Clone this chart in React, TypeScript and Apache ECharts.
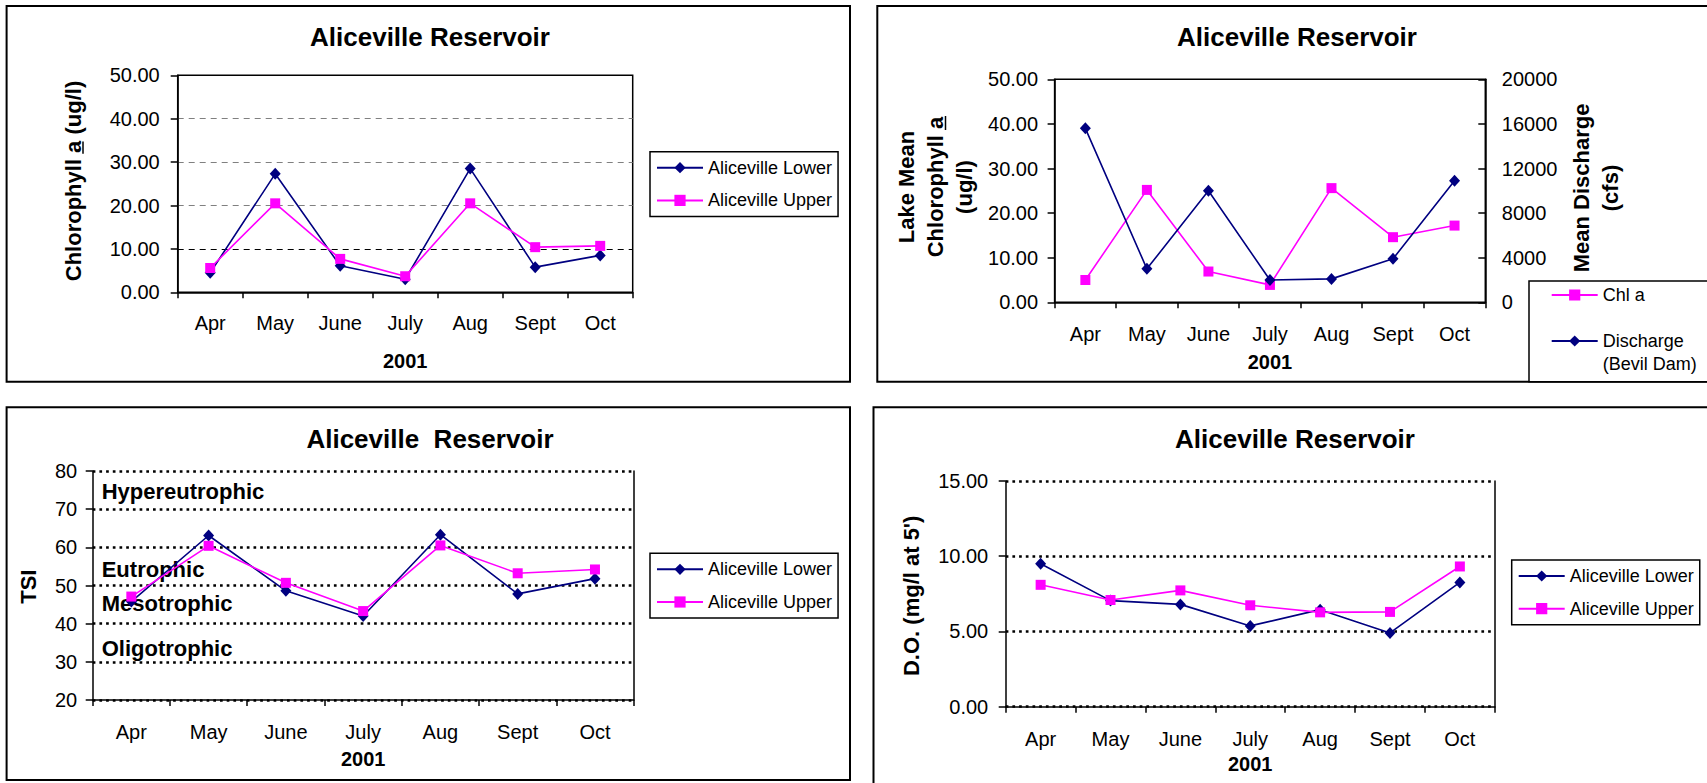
import React, { useEffect, useRef } from 'react';
import * as echarts from 'echarts';

// ---------- data ----------
const months = ['Apr', 'May', 'June', 'July', 'Aug', 'Sept', 'Oct'];

// Panel 1: Chlorophyll a (ug/l)
const chlLower = [4.5, 27.3, 6.1, 3.0, 28.5, 5.8, 8.5];
const chlUpper = [5.6, 20.5, 7.7, 3.7, 20.5, 10.4, 10.7];

// Panel 2: lake mean chlorophyll a and discharge
const lakeChl = [5.0, 25.2, 6.9, 3.9, 25.6, 14.6, 17.2];
const discharge = [15600, 3000, 10000, 2000, 2100, 3900, 10900];

// Panel 3: TSI
const tsiLower = [45.8, 63.1, 48.6, 42.0, 63.3, 47.8, 51.8];
const tsiUpper = [47.1, 60.4, 50.7, 43.3, 60.5, 53.2, 54.2];
const tsiZones = [
  { name: 'Hypereutrophic', from: 70, to: 80, shift: 1 },
  { name: 'Eutrophic', from: 50, to: 60, shift: 3 },
  { name: 'Mesotrophic', from: 40, to: 50, shift: -1 },
  { name: 'Oligotrophic', from: 30, to: 40, shift: 6 },
];

// Panel 4: D.O. (mg/l at 5')
const doLower = [9.5, 7.05, 6.8, 5.37, 6.45, 4.9, 8.26];
const doUpper = [8.1, 7.09, 7.73, 6.74, 6.27, 6.3, 9.32];

const seriesNames = ['Aliceville Lower', 'Aliceville Upper'];

// ---------- styling ----------
const FONT = "'Liberation Sans', Arial, Helvetica, sans-serif";
const NAVY = '#000080';
const PINK = '#FF00FF';
const AXIS_LINE = { color: '#000', width: 1.5 };

function xAx(gridIndex: number, labelMargin: number, nameGap: number) {
  return {
    type: 'category',
    gridIndex,
    data: months,
    boundaryGap: true,
    axisLine: { show: true, lineStyle: AXIS_LINE },
    axisTick: { show: true, length: 6, lineStyle: AXIS_LINE },
    axisLabel: { color: '#000', fontSize: 20, fontFamily: FONT, margin: labelMargin, interval: 0, lineHeight: 20 },
    splitLine: { show: false },
    name: '2001',
    nameLocation: 'middle',
    nameGap,
    nameTextStyle: { color: '#000', fontSize: 20, fontWeight: 'bold', fontFamily: FONT, lineHeight: 20 },
  };
}

function yAx(gridIndex: number, min: number, max: number, interval: number, extra: any = {}) {
  return {
    type: 'value',
    gridIndex,
    min,
    max,
    interval,
    axisLine: { show: true, lineStyle: AXIS_LINE },
    axisTick: { show: true, length: 7, lineStyle: AXIS_LINE },
    axisLabel: { color: '#000', fontSize: 20, fontFamily: FONT, margin: 17 },
    splitLine: { show: false },
    ...extra,
  };
}

function frameAx(gridIndex: number, min: number, max: number) {
  return {
    type: 'value',
    gridIndex,
    position: 'right',
    min,
    max,
    axisLine: { show: true, lineStyle: AXIS_LINE },
    axisTick: { show: false },
    axisLabel: { show: false },
    splitLine: { show: false },
  };
}

function lineSeries(name: string, data: number[], xi: number, yi: number, navy: boolean, extra: any = {}) {
  const color = navy ? NAVY : PINK;
  return {
    type: 'line',
    name,
    xAxisIndex: xi,
    yAxisIndex: yi,
    data,
    symbol: navy ? 'diamond' : 'rect',
    symbolSize: navy ? [11, 12] : 10,
    itemStyle: { color },
    lineStyle: { color, width: 1.6 },
    z: navy ? 3 : 4,
    ...extra,
  };
}

function legendBox(left: number, top: number) {
  return {
    orient: 'vertical',
    left,
    top,
    data: seriesNames,
    itemWidth: 46,
    itemHeight: 14,
    itemGap: 12.7,
    padding: [6, 6, 6, 6],
    borderColor: '#000',
    borderWidth: 1.5,
    backgroundColor: '#fff',
    selectedMode: false,
    textStyle: { fontSize: 18, fontFamily: FONT, color: '#000', lineHeight: 20 },
  };
}

function titleAt(text: string, cx: number, top: number) {
  return {
    text,
    left: cx,
    top,
    textAlign: 'center',
    padding: 0,
    textStyle: { fontSize: 26, fontWeight: 'bold', fontFamily: FONT, color: '#000', lineHeight: 26 },
  };
}

function vText(text: string, x: number, y: number, lineHeight = 29) {
  return {
    type: 'text',
    x,
    y,
    rotation: Math.PI / 2,
    silent: true,
    style: {
      text,
      fontSize: 22,
      fontWeight: 'bold',
      fontFamily: FONT,
      fill: '#000',
      align: 'center',
      verticalAlign: 'middle',
      lineHeight,
    },
  };
}

function buildOption() {
  const fix2 = (v: number) => v.toFixed(2);
  const plain = (v: number) => String(v);
  const dotted = { show: true, lineStyle: { type: [2.7, 4], color: '#000', width: 2.5 } };

  return {
    animation: false,
    backgroundColor: '#fff',
    title: [
      titleAt('Aliceville Reservoir', 430, 24),
      titleAt('Aliceville Reservoir', 1297, 24),
      titleAt('Aliceville  Reservoir', 430, 426),
      titleAt('Aliceville Reservoir', 1295, 426),
    ],
    legend: [
      legendBox(650, 151.7),
      {
        orient: 'vertical',
        left: 1550.7,
        top: 285,
        data: ['Chl a', 'Discharge'],
        itemWidth: 46,
        itemHeight: 14,
        itemGap: 26,
        padding: 0,
        selectedMode: false,
        textStyle: { fontSize: 18, fontFamily: FONT, color: '#000', lineHeight: 20 },
      },
      legendBox(650, 553.3),
      legendBox(1511.7, 560),
    ],
    grid: [
      { left: 177.7, top: 75.3, width: 455, height: 217, show: true, borderColor: '#000', borderWidth: 1.5, backgroundColor: 'transparent' },
      { left: 1054.6, top: 79.3, width: 430.7, height: 223, show: true, borderColor: '#000', borderWidth: 1.5, backgroundColor: 'transparent' },
      { left: 92.7, top: 471, width: 540.9, height: 229 },
      { left: 1005.7, top: 481, width: 489.1, height: 225.7 },
    ],
    xAxis: [
      xAx(0, 21, 59),
      xAx(1, 22, 49.5),
      xAx(2, 21.5, 49),
      xAx(3, 22, 47.5),
    ],
    yAxis: [
      yAx(0, 0, 50, 10, {
        axisLabel: { color: '#000', fontSize: 20, fontFamily: FONT, margin: 18, formatter: fix2 },
        splitLine: {
          show: true,
          lineStyle: { type: [6, 5], width: 1, color: ['#000', '#000', '#808080', '#808080', '#808080', '#000'] },
        },
      }),
      yAx(1, 0, 50, 10, {
        axisLabel: { color: '#000', fontSize: 20, fontFamily: FONT, margin: 16.5, formatter: fix2 },
      }),
      yAx(1, 0, 20000, 4000, {
        position: 'right',
        axisTick: { show: true, inside: true, length: 7, lineStyle: AXIS_LINE },
        axisLabel: { color: '#000', fontSize: 20, fontFamily: FONT, margin: 16.5, formatter: plain },
      }),
      yAx(2, 20, 80, 10, {
        axisLabel: { color: '#000', fontSize: 20, fontFamily: FONT, margin: 15.5, formatter: plain },
        splitLine: dotted,
      }),
      frameAx(2, 20, 80),
      yAx(3, 0, 15, 5, {
        axisLabel: { color: '#000', fontSize: 20, fontFamily: FONT, margin: 17.5, formatter: fix2 },
        splitLine: dotted,
      }),
      frameAx(3, 0, 15),
    ],
    series: [
      lineSeries(seriesNames[0], chlLower, 0, 0, true),
      lineSeries(seriesNames[1], chlUpper, 0, 0, false),
      lineSeries('Chl a', lakeChl, 1, 1, false, { z: 3 }),
      lineSeries('Discharge', discharge, 1, 2, true, { z: 4 }),
      lineSeries(seriesNames[0], tsiLower, 2, 3, true, {
        markArea: {
          silent: true,
          itemStyle: { color: 'rgba(0,0,0,0)' },
          label: {
            show: true,
            position: 'insideLeft',
            distance: 9,
            fontSize: 22,
            fontWeight: 'bold',
            fontFamily: FONT,
            color: '#000',
          },
          data: tsiZones.map((z) => [
            { name: z.name, yAxis: z.from, label: { offset: [0, z.shift] } },
            { yAxis: z.to },
          ]),
        },
      }),
      lineSeries(seriesNames[1], tsiUpper, 2, 3, false),
      lineSeries(seriesNames[0], doLower, 3, 5, true),
      lineSeries(seriesNames[1], doUpper, 3, 5, false),
    ],
    graphic: {
      elements: [
        // panel frames
        { type: 'rect', z: -10, silent: true, shape: { x: 6.6, y: 6, width: 843.4, height: 375.7 }, style: { fill: 'none', stroke: '#000', lineWidth: 2 } },
        { type: 'rect', z: -10, silent: true, shape: { x: 877.3, y: 6, width: 900, height: 375.7 }, style: { fill: 'none', stroke: '#000', lineWidth: 2 } },
        { type: 'rect', z: -10, silent: true, shape: { x: 6.6, y: 407.3, width: 843.4, height: 372.7 }, style: { fill: 'none', stroke: '#000', lineWidth: 2 } },
        { type: 'rect', z: -10, silent: true, shape: { x: 873.5, y: 407.3, width: 900, height: 400 }, style: { fill: 'none', stroke: '#000', lineWidth: 2 } },
        // panel 2 legend frame
        { type: 'rect', z: -5, silent: true, shape: { x: 1529, y: 281, width: 200, height: 100.7 }, style: { fill: '#fff', stroke: '#000', lineWidth: 1.5 } },
        {
          type: 'text', x: 1602.7, y: 364, silent: true,
          style: { text: '(Bevil Dam)', fontSize: 18, fontFamily: FONT, fill: '#000', align: 'left', verticalAlign: 'middle' },
        },
        // axis titles
        vText('Chlorophyll a (ug/l)', 73, 181),
        { type: 'line', silent: true, shape: { x1: 83, y1: 141.5, x2: 83, y2: 153.7 }, style: { stroke: '#000', lineWidth: 1.5 } },
        vText('Lake Mean\nChlorophyll a\n(ug/l)', 935.5, 187),
        { type: 'line', silent: true, shape: { x1: 945.5, y1: 116, x2: 945.5, y2: 130 }, style: { stroke: '#000', lineWidth: 1.5 } },
        vText('Mean Discharge\n(cfs)', 1596, 188, 28.3),
        vText('TSI', 28.3, 586.7),
        vText("D.O. (mg/l at 5')", 911.7, 595.8),
      ],
    },
  };
}

export default function App() {
  const ref = useRef<HTMLDivElement>(null);
  useEffect(() => {
    const chart = echarts.init(ref.current as HTMLDivElement, undefined, { renderer: 'svg' });
    chart.setOption(buildOption() as any);
    return () => chart.dispose();
  }, []);
  return (
    <div
      ref={ref}
      style={{ position: 'fixed', left: 0, top: 0, width: 1707, height: 783, background: '#fff' }}
    />
  );
}
